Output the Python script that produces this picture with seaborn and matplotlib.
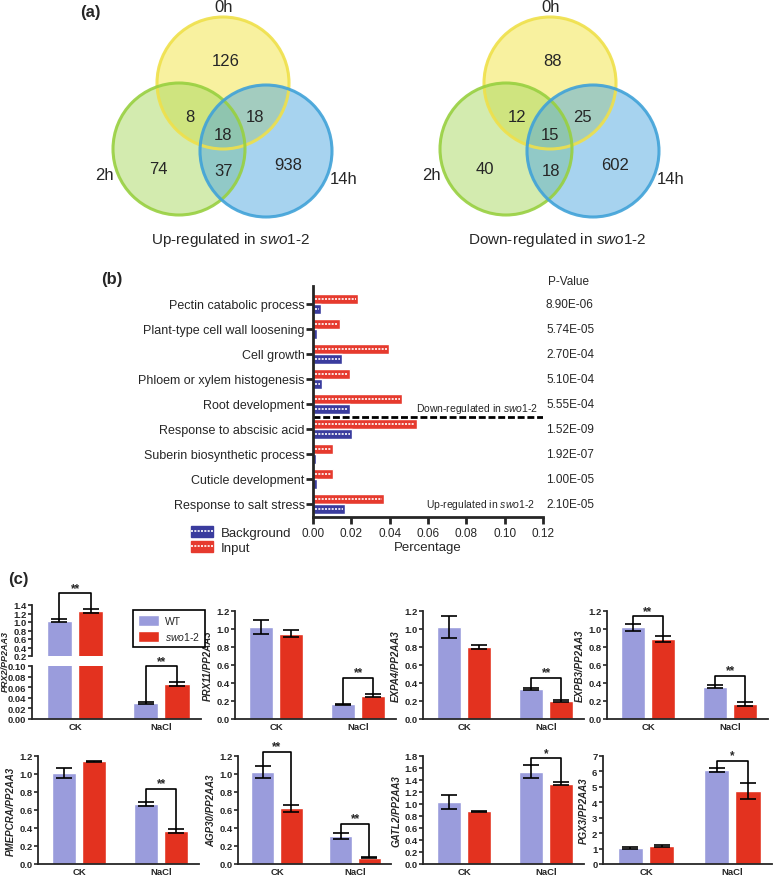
import numpy as np
import pandas as pd
import matplotlib.pyplot as plt
import seaborn as sns
from matplotlib.patches import Circle, Patch
from matplotlib.lines import Line2D
from matplotlib.transforms import blended_transform_factory

# ---------------- data ----------------
# (a) venn counts: 0h only, 0h&2h, 0h&14h, all three, 2h only, 2h&14h, 14h only
venn_sets = ['0h', '2h', '14h']
venn_up = [126, 8, 18, 18, 74, 37, 938]
venn_down = [88, 12, 25, 15, 40, 18, 602]

# (b) GO enrichment
go_terms = ['Pectin catabolic process', 'Plant-type cell wall loosening', 'Cell growth',
            'Phloem or xylem histogenesis', 'Root development', 'Response to abscisic acid',
            'Suberin biosynthetic process', 'Cuticle development', 'Response to salt stress']
go_input = [0.0235, 0.0143, 0.0396, 0.0192, 0.0466, 0.0540, 0.0105, 0.0105, 0.0372]
go_background = [0.0044, 0.0020, 0.0152, 0.0047, 0.0195, 0.0204, 0.0014, 0.0020, 0.0166]
go_pvalue = ['8.90E-06', '5.74E-05', '2.70E-04', '5.10E-04', '5.55E-04',
             '1.52E-09', '1.92E-07', '1.00E-05', '2.10E-05']

# (c) qRT-PCR
genes = ['PRX2', 'PRX11', 'EXPA4', 'EXPB3', 'PMEPCRA', 'AGP30', 'GATL2', 'PGX3']
conditions = ['CK', 'NaCl']
genotypes = ['WT', 'swo1-2']
wt_ck = [1.03, 1.02, 1.02, 1.02, 1.01, 1.02, 1.03, 1.05]
wt_ck_err = [0.04, 0.075, 0.12, 0.04, 0.055, 0.065, 0.12, 0.05]
mut_ck = [1.26, 0.95, 0.80, 0.89, 1.14, 0.62, 0.88, 1.17]
mut_ck_err = [0.05, 0.04, 0.025, 0.035, 0.01, 0.04, 0.01, 0.04]
wt_nacl = [0.031, 0.165, 0.33, 0.36, 0.67, 0.31, 1.54, 6.08]
wt_nacl_err = [0.002, 0.006, 0.01, 0.015, 0.02, 0.035, 0.11, 0.12]
mut_nacl = [0.066, 0.26, 0.20, 0.17, 0.37, 0.07, 1.34, 4.75]
mut_nacl_err = [0.003, 0.02, 0.006, 0.02, 0.02, 0.005, 0.02, 0.52]
sig_ck = ['**', '', '', '**', '', '**', '', '']
sig_nacl = ['**', '**', '**', '**', '**', '**', '*', '*']
bracket_ck = [1.68, None, None, 1.14, None, 1.25, None, None]
bracket_nacl = [0.10, 0.46, 0.46, 0.48, 0.835, 0.45, 1.76, 6.7]
gene_ymax = [1.4, 1.2, 1.2, 1.2, 1.2, 1.2, 1.8, 7]

# ---------------- style ----------------
sns.set_style('ticks')
plt.rcParams['font.family'] = ['Liberation Sans', 'DejaVu Sans']
plt.rcParams['mathtext.fontset'] = 'custom'
plt.rcParams['mathtext.rm'] = 'Liberation Sans'
plt.rcParams['mathtext.it'] = 'Liberation Sans:italic'
plt.rcParams['mathtext.bf'] = 'Liberation Sans:bold'

W, H = 777, 878
swo = r'$\mathit{swo1}$-$\mathit{2}$'
go_red, go_blue = '#e63a2e', '#3a3c9e'
wt_color, mut_color = '#9a9cdc', '#e3321f'


def px_box(left, top, width, height):
    return [left / W, 1 - (top + height) / H, width / W, height / H]


fig = plt.figure(figsize=(W / 100, H / 100), dpi=100)

# ---------------- (b) GO bars ----------------
ax_b = fig.add_axes(px_box(313, 287, 230, 231))
df_go = pd.DataFrame({'term': go_terms * 2,
                      'value': go_input + go_background,
                      'set': ['Input'] * len(go_terms) + ['Background'] * len(go_terms)})
sns.barplot(data=df_go, x='value', y='term', hue='set', hue_order=['Input', 'Background'],
            palette={'Input': go_red, 'Background': go_blue}, orient='h', width=0.8,
            gap=0.06, saturation=1, legend=False, ax=ax_b)
for p in list(ax_b.patches):
    yc = p.get_y() + p.get_height() / 2
    x0, w = p.get_x(), p.get_width()
    if w > 0.003:
        ax_b.plot([x0 + 0.0012, x0 + w - 0.0012], [yc, yc], color='white', lw=1.2,
                  ls=(0, (1.2, 0.8)), solid_capstyle='butt')
ax_b.axhline(4.5, color='black', lw=2, ls=(0, (2.5, 1)))
ax_b.set_xlim(0, 0.12)
ax_b.set_ylim(8.52, -0.72)
xt = np.arange(0, 0.121, 0.02)
ax_b.set_xticks(xt, labels=[f'{v:.2f}' for v in xt], fontsize=8.5)
ax_b.tick_params(axis='y', labelsize=9, width=2, length=5, pad=1)
ax_b.tick_params(axis='x', width=2, length=5, pad=2)
ax_b.set_xlabel('Percentage', fontsize=9.5, labelpad=2)
ax_b.set_ylabel('')
sns.despine(ax=ax_b)
for s in ['left', 'bottom']:
    ax_b.spines[s].set_linewidth(2)
tr = blended_transform_factory(ax_b.transAxes, ax_b.transData)
for i, pv in enumerate(go_pvalue):
    ax_b.text(1.013, i, pv, transform=tr, fontsize=8.5, va='center', ha='left')
ax_b.text(1.02, -0.9, 'P-Value', transform=tr, fontsize=8.5, va='center', ha='left')
ax_b.text(0.978, 4.15, 'Down-regulated in ' + swo, transform=tr, fontsize=7.5,
          va='center', ha='right')
ax_b.text(0.965, 8.0, 'Up-regulated in ' + swo, transform=tr, fontsize=7.5,
          va='center', ha='right')

dot = dict(color='white', ls=(0, (1.2, 0.8)), lw=1.2)
fig.legend(handles=[(Patch(fc=go_blue, ec=go_blue), Line2D([0], [0], **dot)),
                    (Patch(fc=go_red, ec=go_red), Line2D([0], [0], **dot))],
           labels=['Background', 'Input'], loc='upper left',
           bbox_to_anchor=(184 / W, 1 - 520 / H), frameon=False, fontsize=9.5,
           handlelength=1.7, handleheight=0.9, borderpad=0, labelspacing=0.2,
           handletextpad=0.6)


# ---------------- (c) qRT-PCR ----------------
def draw_bars(ax, i):
    df = pd.DataFrame({'condition': conditions * 2,
                       'genotype': [genotypes[0]] * 2 + [genotypes[1]] * 2,
                       'value': [wt_ck[i], wt_nacl[i], mut_ck[i], mut_nacl[i]]})
    sns.barplot(data=df, x='condition', y='value', hue='genotype', order=conditions,
                hue_order=genotypes, palette=[wt_color, mut_color], width=0.73, gap=0.2,
                saturation=1, legend=False, ax=ax)
    bars = sorted(ax.patches, key=lambda p: p.get_x())
    errs = [wt_ck_err[i], mut_ck_err[i], wt_nacl_err[i], mut_nacl_err[i]]
    xs = [p.get_x() + p.get_width() / 2 for p in bars]
    hs = [p.get_height() for p in bars]
    ax.errorbar(xs, hs, yerr=errs, fmt='none', ecolor='black', elinewidth=1.2,
                capsize=5.5, capthick=1.2)
    ax.set_xlim(-0.5, 1.46)
    ax.set_xlabel('')
    ax.set_ylabel('')
    sns.despine(ax=ax)
    for s in ['left', 'bottom']:
        ax.spines[s].set_linewidth(1.3)
    ax.tick_params(axis='y', width=1.2, length=3, pad=1)
    ax.tick_params(axis='x', length=0, pad=2)
    ax.set_xticks([0, 1], labels=conditions, fontsize=6.8, fontweight='bold')
    tops = [h + e for h, e in zip(hs, errs)]
    return xs, tops


def bracket(ax, x1, x2, y1, y2, level, text):
    ax.plot([x1, x1, x2, x2], [y1, level, level, y2], color='black', lw=1.2, clip_on=False)
    ax.annotate(text, xy=((x1 + x2) / 2, level), xytext=(0, -0.5), textcoords='offset points',
                ha='center', va='bottom', fontsize=8.5, fontweight='bold',
                annotation_clip=False)


def set_yticks(ax, ticks, fmt):
    ax.set_yticks(ticks, labels=[fmt.format(t) for t in ticks], fontsize=6.8,
                  fontweight='bold')


row1 = [(32, 169), (235, 161), (423, 161), (607, 161)]
row2 = [(38, 161), (238, 153), (423, 161), (603, 169)]

for i, gene in enumerate(genes):
    if i == 0:
        left, width = row1[0]
        ax_top = fig.add_axes(px_box(left, 606, width, 51))
        ax_bot = fig.add_axes(px_box(left, 667, width, 53))
        xs, tops = draw_bars(ax_top, i)
        draw_bars(ax_bot, i)
        ax_top.set_ylim(0.2, 1.4)
        set_yticks(ax_top, np.round(np.arange(0.2, 1.41, 0.2), 1), '{:.1f}')
        ax_top.spines['bottom'].set_visible(False)
        ax_top.set_xticks([])
        ax_bot.set_ylim(0, 0.1)
        set_yticks(ax_bot, np.round(np.arange(0, 0.101, 0.02), 2), '{:.2f}')
        bracket(ax_top, xs[0], xs[1], tops[0], tops[1], bracket_ck[i], sig_ck[i])
        bracket(ax_bot, xs[2], xs[3], tops[2], tops[3], bracket_nacl[i], sig_nacl[i])
        continue
    left, width = row1[i] if i < 4 else row2[i - 4]
    top = 612 if i < 4 else 757
    ax = fig.add_axes(px_box(left, top, width, 108))
    xs, tops = draw_bars(ax, i)
    ymax = gene_ymax[i]
    ax.set_ylim(0, ymax)
    if ymax >= 5:
        set_yticks(ax, np.arange(0, ymax + 1), '{:.0f}')
    else:
        set_yticks(ax, np.round(np.arange(0, ymax + 0.01, 0.2), 1), '{:.1f}')
    ax.set_ylabel(f'{gene}/PP2AA3', fontsize=7, fontstyle='italic', fontweight='bold',
                  labelpad=2)
    if sig_ck[i]:
        bracket(ax, xs[0], xs[1], tops[0], tops[1], bracket_ck[i], sig_ck[i])
    if sig_nacl[i]:
        bracket(ax, xs[2], xs[3], tops[2], tops[3], bracket_nacl[i], sig_nacl[i])

leg = fig.legend(handles=[Patch(fc=wt_color), Patch(fc=mut_color)], labels=['WT', swo],
                 loc='upper left', bbox_to_anchor=(128 / W, 1 - 606 / H), frameon=True,
                 fancybox=False, edgecolor='black', framealpha=1, fontsize=7.5,
                 handlelength=2.0, handleheight=1.3, borderpad=0.45, labelspacing=0.35,
                 handletextpad=0.6)
leg.get_frame().set_linewidth(1.2)

# ---------------- (a) venn + panel letters ----------------
ax_v = fig.add_axes([0, 0, 1, 1])
ax_v.set_xlim(0, W)
ax_v.set_ylim(H, 0)
ax_v.axis('off')

circle_offsets = [(0, -45), (-44, 21), (43, 23)]
circle_fill = ['#f2e440', '#a8d860', '#50a8e0']
circle_edge = ['#efe04a', '#98d040', '#40a2d8']
region_offsets = [(3, -67), (-33, -11), (32, -12), (0, 7), (-65, 40), (1, 43), (65, 36)]
label_offsets = [(1, -122), (-119, 47), (121, 50)]
radius = 66

for cx, counts, title in [(223, venn_up, 'Up-regulated in '),
                          (550, venn_down, 'Down-regulated in ')]:
    cy = 129
    for (dx, dy), fc in zip(circle_offsets, circle_fill):
        ax_v.add_patch(Circle((cx + dx, cy + dy), radius, fc=fc, ec='none', alpha=0.5))
    for (dx, dy), ec in zip(circle_offsets, circle_edge):
        ax_v.add_patch(Circle((cx + dx, cy + dy), radius, fc='none', ec=ec, lw=2.2, alpha=0.9))
    for (dx, dy), n in zip(region_offsets, counts):
        ax_v.text(cx + dx, cy + dy, str(n), fontsize=12, ha='center', va='center')
    for (dx, dy), name in zip(label_offsets, venn_sets):
        ax_v.text(cx + dx, cy + dy, name, fontsize=12, ha='center', va='center')
    ax_v.text(cx + 7, cy + 111, title + swo, fontsize=11, ha='center', va='center')

ax_v.text(90, 12, '(a)', fontsize=12, fontweight='bold', ha='center', va='center')
ax_v.text(112, 280, '(b)', fontsize=12, fontweight='bold', ha='center', va='center')
ax_v.text(18, 580, '(c)', fontsize=12, fontweight='bold', ha='center', va='center')
ax_v.text(5, 662, 'PRX2/PP2AA3', fontsize=6.5, fontstyle='italic', fontweight='bold',
          ha='center', va='center', rotation=90)

fig.savefig('out.png', dpi=100)
